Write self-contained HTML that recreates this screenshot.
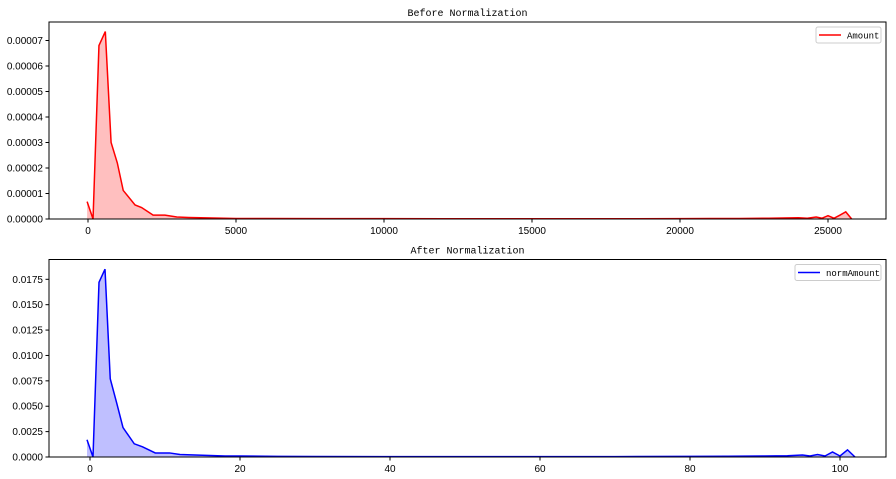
<!DOCTYPE html>
<html><head><meta charset="utf-8"><style>
html,body{margin:0;padding:0;background:#fff;}
svg{display:block;font-family:"Liberation Mono","DejaVu Sans Mono",monospace;}
</style></head><body>
<svg id="chart" width="896" height="479" xmlns="http://www.w3.org/2000/svg"></svg>
<script>
// Top panel data
const topX = [-30,170,370,585,780,990,1190,1590,1810,2200,2600,3000,3400,3800,4200,4600,5000,6000,8000,10000,12000,14000,16000,18000,20000,21000,22000,23000,23500,24000,24300,24600,24800,25000,25200,25400,25600,25800];
const topY = [6.8e-6,0,6.8e-5,7.35e-5,3.0e-5,2.2e-5,1.12e-5,5.5e-6,4.5e-6,1.5e-6,1.5e-6,8e-7,6e-7,5e-7,4e-7,3e-7,2e-7,2e-7,1.5e-7,1.5e-7,1e-7,1e-7,1e-7,1e-7,1.5e-7,2e-7,2e-7,3e-7,4e-7,5e-7,3e-7,8e-7,3e-7,1.3e-6,3e-7,1.5e-6,2.8e-6,0];
const topYTicks = [0,0.00001,0.00002,0.00003,0.00004,0.00005,0.00006,0.00007];
const topYLabels = ["0.00000","0.00001","0.00002","0.00003","0.00004","0.00005","0.00006","0.00007"];
const topXTicks = [0,5000,10000,15000,20000,25000];
// Bottom panel data
const botX = [-0.4,0.4,1.2,2.0,2.7,3.6,4.4,5.9,7.0,8.7,10.6,12,14,16,18,20,25,30,40,50,60,70,80,85,90,93,95,96,97,98,99,100,101,102];
const botY = [0.0017,0,0.0172,0.0185,0.0077,0.0052,0.0029,0.0013,0.001,0.0004,0.0004,0.00025,0.0002,0.00015,0.0001,0.0001,0.00006,0.00005,0.00004,0.00004,0.00004,0.00004,0.00006,0.00008,0.0001,0.00012,0.0002,0.0001,0.00025,0.0001,0.0005,0.0001,0.0007,0];
const botYTicks = [0,0.0025,0.005,0.0075,0.01,0.0125,0.015,0.0175];
const botYLabels = ["0.0000","0.0025","0.0050","0.0075","0.0100","0.0125","0.0150","0.0175"];
const botXTicks = [0,20,40,60,80,100];

const NS="http://www.w3.org/2000/svg";
const svg=document.getElementById('chart');
function mk(tag,attrs,parent){const e=document.createElementNS(NS,tag);for(const k in attrs)e.setAttribute(k,attrs[k]);(parent||svg).appendChild(e);return e;}
const SANS='"Liberation Sans", Arial, sans-serif';

function panel(o){
  const g=mk('g',{});
  
  
  const sx=v=>o.x0px+(v-o.x0v)*o.kx;
  const sy=v=>o.bottom-v*o.ky;
  let d='M'+sx(o.xs[0])+','+o.bottom;
  o.xs.forEach((x,i)=>{d+=' L'+sx(x)+','+sy(o.ys[i]);});
  d+=' L'+sx(o.xs[o.xs.length-1])+','+o.bottom+' Z';
  const area=mk('path',{d:d,fill:o.fill,stroke:'none'},g);
  
  
  const pts=o.xs.map((x,i)=>sx(x)+','+sy(o.ys[i])).join(' ');
  const line=mk('polyline',{points:pts,fill:'none',stroke:o.color,'stroke-width':1.5},g);
  
  
  const fr=mk('rect',{x:o.left,y:o.top,width:o.right-o.left,height:o.bottom-o.top,fill:'none',stroke:'#000','stroke-width':1},g);
  
  
  o.yt.forEach((v,i)=>{
    const y=sy(v);
    mk('line',{x1:o.left-3.5,x2:o.left,y1:y,y2:y,stroke:'#000'},g);
    const t=mk('text',{x:o.left-6,y:y+3.5,'font-size':10,'font-family':SANS,'text-anchor':'end',fill:'#000'},g);
    t.textContent=o.yl[i];
    
    
  });
  o.xt.forEach(v=>{
    const x=sx(v);
    mk('line',{x1:x,x2:x,y1:o.bottom,y2:o.bottom+3.5,stroke:'#000'},g);
    const t=mk('text',{x:x,y:o.bottom+15,'font-size':10,'font-family':SANS,'text-anchor':'middle',fill:'#000'},g);
    t.textContent=String(v);
    
    
  });
  const ti=mk('text',{x:(o.left+o.right)/2,y:o.top-6,'font-size':10,'text-anchor':'middle',fill:'#000'},g);
  ti.textContent=o.title;
  
  
  const lg=mk('g',{},g);
  
  
  mk('rect',{x:o.lgx,y:o.top+5,width:o.right-5-o.lgx,height:16,rx:2,fill:'#fff',stroke:'#ccc'},lg);
  mk('line',{x1:o.lgx+3,x2:o.lgx+25,y1:o.top+13,y2:o.top+13,stroke:o.color,'stroke-width':1.5},lg);
  const lt=mk('text',{x:o.lgx+31,y:o.top+16.5,'font-size':9,fill:'#000'},lg);
  lt.textContent=o.series;
  
  
}
panel({name:'before-normalization-panel',title:'Before Normalization',series:'Amount',color:'#ff0000',fill:'rgba(255,0,0,0.25)',
  xs:topX,ys:topY,xt:topXTicks,yt:topYTicks,yl:topYLabels,left:49,right:886,top:22,bottom:219,
  x0px:88,x0v:0,kx:148/5000,ky:178.5/0.00007,lgx:816});
panel({name:'after-normalization-panel',title:'After Normalization',series:'normAmount',color:'#0000ff',fill:'rgba(0,0,255,0.25)',
  xs:botX,ys:botY,xt:botXTicks,yt:botYTicks,yl:botYLabels,left:49,right:886,top:259.5,bottom:457,
  x0px:90,x0v:0,kx:7.5,ky:177.7/0.0175,lgx:795});
</script>
</body></html>
